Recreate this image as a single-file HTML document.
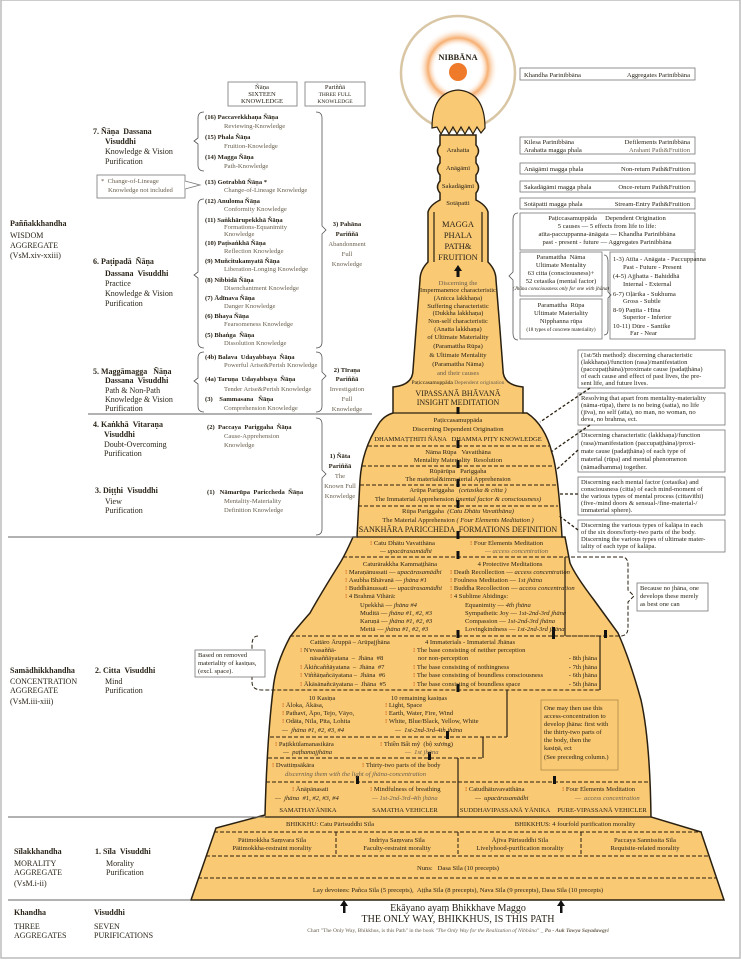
<!DOCTYPE html>
<html><head><meta charset="utf-8"><style>
html,body{margin:0;padding:0;background:#fff;}
svg{display:block;}
text{font-family:"Liberation Serif",serif;fill:#2a2418;}
.s{font-size:6.6px}
.m{font-size:8px}
.l{font-size:10px}
.b{font-weight:bold}
.i{font-style:italic}
.g{fill:#6a604f}
.c{text-anchor:middle}
.r{text-anchor:end}
.o{fill:#d2691e;font-weight:bold}
.dl{stroke:#2a2010;stroke-width:1;stroke-dasharray:4 2;fill:none}
.sl{stroke:#2a2010;stroke-width:1.2;fill:none}
.bx{stroke:#777;stroke-width:0.8;fill:#fff}
.br{stroke:#555;stroke-width:0.8;fill:none}
</style></head><body>
<svg width="741" height="960" viewBox="0 0 741 960" xmlns="http://www.w3.org/2000/svg">
<defs>
<radialGradient id="glow" cx="50%" cy="50%" r="50%">
<stop offset="0" stop-color="#fff" stop-opacity="0"/>
<stop offset="0.55" stop-color="#fff" stop-opacity="0"/>
<stop offset="0.75" stop-color="#f5a560" stop-opacity="0.9"/>
<stop offset="1" stop-color="#fff" stop-opacity="0"/>
</radialGradient>
</defs>
<rect x="1" y="0" width="739" height="958" fill="none" stroke="#bbb" stroke-width="1.5"/>

<!-- Nibbana -->
<circle cx="458" cy="73" r="57" fill="#fff" stroke="#d9c6a4" stroke-width="2.5"/>
<circle cx="458" cy="68" r="40" fill="url(#glow)"/>
<circle cx="458" cy="72" r="9" fill="#ee7a2a"/>
<text x="458" y="60" class="m b c" style="font-size:8.5px">NIBBĀNA</text>

<!-- dome cap -->
<path d="M432,128 Q432,92 458,90 Q485,92 485,128 L481,133 L477,127 L473,134 L469,127 L465,134 L461,127 L457,134 L453,127 L449,134 L445,127 L441,134 L437,127 Z" fill="#f9c974" stroke="#2a2010" stroke-width="1.2"/>

<!-- main stupa -->
<path d="M440,135 L440,145 Q435,151 440,157 L440,163 Q435,169 440,175 L440,181 Q435,187 440,193 L440,200 Q430,205 428,212 L428,262 Q420,270 420,280 L416,330 L413,370 Q413,385 393,387 L393,413 Q383,416 378,425 Q362,450 360,480 L357,537 L353,537 Q345,555 340,563 Q320,595 310,613 Q295,630 290,637 Q275,665 273,690 Q267,740 265,815 L216,828 L191,900 L724,900 L701,832 L651,817 Q650,740 641,700 Q630,660 618,633 Q605,615 594,600 Q575,575 570,563 L565,537 L562,537 Q558,470 552,453 Q545,425 527,413 L523,413 L523,387 Q503,385 503,370 L500,330 L496,280 Q496,270 488,262 L488,212 Q486,205 476,200 L476,193 Q481,187 476,181 L476,175 Q481,169 476,163 L476,157 Q481,151 476,145 L476,135 Z" fill="#f9c974" stroke="#2a2010" stroke-width="1.5"/>
<path class="sl" d="M434,212 L434,262 M482,212 L482,262"/>

<!-- internal lines -->
<line x1="393" y1="413" x2="523" y2="413" class="sl"/>
<line x1="368" y1="446" x2="549" y2="446" class="dl"/>
<line x1="362" y1="466" x2="553" y2="466" class="dl"/>
<line x1="360" y1="485" x2="556" y2="485" class="dl"/>
<line x1="358" y1="506" x2="558" y2="506" class="dl"/>
<line x1="356" y1="537" x2="563" y2="537" class="sl"/>
<path class="dl" d="M343,557 L622,557 Q628,557 628,565 L628,590 L634,596 L628,602 L628,628 Q628,636 620,636 L565,636"/>
<line x1="565" y1="557" x2="565" y2="636" class="sl"/>
<path class="dl" d="M290,636 L600,636 M258,636 Q252,636 252,645 L252,656 L246,662 L252,668 L252,682 Q252,690 262,690 L600,690"/>
<line x1="600" y1="636" x2="600" y2="690" class="sl"/>
<path class="dl" d="M270,737 L507,737 M268,758 L483,758 M266,782 L649,782"/>
<path class="sl" d="M507,690 L507,737 M483,737 L483,758 M458,758 L458,817"/>
<line x1="265" y1="817" x2="651" y2="817" class="sl"/>
<path class="dl" d="M214,832 L702,832 M206,856 L709,856 M198,878 L716,878"/>
<path class="dl" d="M336,832 L336,856 M458,832 L458,856 M581,832 L581,856"/>

<!-- arrows -->
<g fill="#111">
<rect x="456.5" y="269" width="3" height="8"/><path d="M454,271 L458,265 L462,271 Z"/>
<rect x="456.5" y="407" width="3" height="7"/>
<rect x="456.5" y="440" width="3" height="8"/>
<rect x="456.5" y="460" width="3" height="8"/>
<rect x="456.5" y="479" width="3" height="8"/>
<rect x="456.5" y="500" width="3" height="8"/>
<rect x="456.5" y="531" width="3" height="8"/>
<rect x="456.5" y="551" width="3" height="8"/>
<rect x="456.5" y="630" width="3" height="8"/>
<rect x="456.5" y="684" width="3" height="8"/>
<rect x="446" y="731" width="3" height="8"/>
<rect x="428" y="752" width="3" height="8"/>
<rect x="356" y="776" width="3" height="8"/>
<rect x="553" y="776" width="3" height="8"/>
<rect x="552" y="627" width="3" height="12"/>
<rect x="604" y="630" width="3" height="8"/>
<rect x="343" y="903" width="2.5" height="10"/><path d="M340,906 L344,900 L348,906 Z"/>
<rect x="560" y="903" width="2.5" height="10"/><path d="M557,906 L561,900 L565,906 Z"/>
</g>

<!-- spire text -->
<g class="s c">
<text x="458" y="152">Arahatta</text>
<text x="458" y="170">Anāgāmī</text>
<text x="458" y="188">Sakadāgāmī</text>
<text x="458" y="205">Sotāpatti</text>
<text x="458" y="227" class="m" style="font-size:8.5px">MAGGA</text>
<text x="458" y="238" class="m" style="font-size:8.5px">PHALA</text>
<text x="458" y="249" class="m" style="font-size:8.5px">PATH&amp;</text>
<text x="458" y="260" class="m" style="font-size:8.5px">FRUITION</text>
<text x="458" y="285" class="g">Discerning the</text>
<text x="458" y="292">Impermanence characteristic</text>
<text x="458" y="300">(Anicca lakkhaṇa)</text>
<text x="458" y="308">Suffering characteristic</text>
<text x="458" y="315">(Dukkha lakkhaṇa)</text>
<text x="458" y="323">Non-self characteristic</text>
<text x="458" y="331">(Anatta lakkhaṇa)</text>
<text x="458" y="339">of Ultimate Materiality</text>
<text x="458" y="348">(Paramattha Rūpa)</text>
<text x="458" y="357">&amp; Ultimate Mentality</text>
<text x="458" y="366">(Paramattha Nāma)</text>
<text x="458" y="375" class="g">and their causes</text>
<text x="458" y="384" style="font-size:5.6px">Paṭiccasamuppāda <tspan class="g">Dependent origination</tspan></text>
<text x="458" y="396" class="m">VIPASSANĀ BHĀVANĀ</text>
<text x="458" y="405" class="m">INSIGHT MEDITATION</text>
<text x="458" y="422">Paṭiccasamuppāda</text>
<text x="458" y="431">Discerning Dependent Origination</text>
<text x="458" y="441">DHAMMAṬṬHITI ÑĀṆA &#160;&#160;DHAMMA PIṬY KNOWLEDGE</text>
<text x="458" y="454">Nāma Rūpa &#160;&#160;Vavatthāna</text>
<text x="458" y="462">Mentality Materiality &#160;Resolution</text>
<text x="458" y="473">Rūpārūpa &#160;&#160;Pariggaha</text>
<text x="458" y="481">The material&amp;immaterial Apprehension</text>
<text x="458" y="492">Arūpa Pariggaha &#160;&#160;<tspan class="i">(cetasika &amp; citta )</tspan></text>
<text x="458" y="501">The Immaterial Apprehension <tspan class="i">(mental factor &amp; consciousness)</tspan></text>
<text x="458" y="513">Rūpa Pariggaha &#160;<tspan class="i">(Catu Dhātu Vavatthāna)</tspan></text>
<text x="458" y="522">The Material Apprehension <tspan class="i">( Four Elements Meditation )</tspan></text>
<text x="458" y="532" class="m">SANKHĀRA PARICCHEDA &#160;FORMATIONS DEFINITION</text>
</g>

<!-- concentration section -->
<g class="s">
<text x="370" y="545"><tspan class="o">! </tspan>Catu Dhātu Vavatthāna</text>
<text x="380" y="553" class="i">— upacārasamādhi</text>
<text x="470" y="545"><tspan class="o">! </tspan>Four Elements Meditation</text>
<text x="485" y="553" class="i g">— access concentration</text>
<text x="400" y="566" class="c">Caturārakkha Kammaṭṭhāna</text>
<text x="510" y="566" class="c">4 Protective Meditations</text>
<text x="345" y="574"><tspan class="o">! </tspan>Maraṇānussati — <tspan class="i">upacārasamādhi</tspan></text>
<text x="345" y="582"><tspan class="o">! </tspan>Asubha Bhāvanā — <tspan class="i">jhāna #1</tspan></text>
<text x="345" y="590"><tspan class="o">! </tspan>Buddhānussati — <tspan class="i">upacārasamādhi</tspan></text>
<text x="345" y="598"><tspan class="o">! </tspan>4 Brahmā Vihārā:</text>
<text x="360" y="607">Upekkhā — <tspan class="i">jhāna #4</tspan></text>
<text x="360" y="615">Muditā — <tspan class="i">jhāna #1, #2, #3</tspan></text>
<text x="360" y="623">Karuṇā — <tspan class="i">jhāna #1, #2, #3</tspan></text>
<text x="360" y="631">Mettā — <tspan class="i">jhāna #1, #2, #3</tspan></text>
<g class="g">
<text x="450" y="574"><tspan class="o">! </tspan>Death Recollection — <tspan class="i">access concentration</tspan></text>
<text x="450" y="582"><tspan class="o">! </tspan>Foulness Meditation — <tspan class="i">1st jhāna</tspan></text>
<text x="450" y="590"><tspan class="o">! </tspan>Buddha Recollection — <tspan class="i">access concentration</tspan></text>
<text x="450" y="598"><tspan class="o">! </tspan>4 Sublime Abidings:</text>
<text x="465" y="607">Equanimity — <tspan class="i">4th jhāna</tspan></text>
<text x="465" y="615">Sympathetic Joy — <tspan class="i">1st-2nd-3rd jhāna</tspan></text>
<text x="465" y="623">Compassion — <tspan class="i">1st-2nd-3rd jhāna</tspan></text>
<text x="465" y="631">Lovingkindness — <tspan class="i">1st-2nd-3rd jhāna</tspan></text>
</g>
<text x="350" y="644" class="c">Cattāro Āruppā – Arūpajjhāna</text>
<text x="470" y="644" class="c">4 Immaterials - Immaterial Jhānas</text>
<text x="300" y="652"><tspan class="o">! </tspan>N'evasaññā-</text>
<text x="310" y="660">nāsaññāyatana &#160;– &#160;Jhāna &#160;#8</text>
<text x="300" y="669"><tspan class="o">! </tspan>Ākiñcaññāyatana &#160;– &#160;Jhāna &#160;#7</text>
<text x="300" y="677"><tspan class="o">! </tspan>Viññāṇañcāyatana – &#160;Jhāna &#160;#6</text>
<text x="300" y="686"><tspan class="o">! </tspan>Ākāsānañcāyatana – &#160;Jhāna &#160;#5</text>
<g class="g">
<text x="413" y="652"><tspan class="o">! </tspan>The base consisting of neither perception</text>
<text x="418" y="660">nor non-perception</text>
<text x="413" y="669"><tspan class="o">! </tspan>The base consisting of nothingness</text>
<text x="413" y="677"><tspan class="o">! </tspan>The base consisting of boundless consciousness</text>
<text x="413" y="686"><tspan class="o">! </tspan>The base consisting of boundless space</text>
<text x="597" y="660" class="r">- 8th jhāna</text>
<text x="597" y="669" class="r">- 7th jhāna</text>
<text x="597" y="677" class="r">- 6th jhāna</text>
<text x="597" y="686" class="r">- 5th jhāna</text>
</g>
<text x="322" y="700" class="c">10 Kasiṇa</text>
<text x="391" y="700">10 remaining kasiṇas</text>
<text x="282" y="707"><tspan class="o">! </tspan>Āloka, Ākāsa,</text>
<text x="282" y="715"><tspan class="o">! </tspan>Pathavī, Āpo, Tejo, Vāyo,</text>
<text x="282" y="723"><tspan class="o">! </tspan>Odāta, Nīla, Pīta, Lohita</text>
<text x="282" y="732" class="i">— &#160;jhāna #1, #2, #3, #4</text>
<g class="g">
<text x="385" y="707"><tspan class="o">! </tspan>Light, Space</text>
<text x="385" y="715"><tspan class="o">! </tspan>Earth, Water, Fire, Wind</text>
<text x="385" y="723"><tspan class="o">! </tspan>White, Blue/Black, Yellow, White</text>
<text x="395" y="732" class="i">— &#160;1st-2nd-3rd-4th jhāna</text>
</g>
<text x="275" y="746"><tspan class="o">! </tspan>Paṭikkūlamanasikāra</text>
<text x="283" y="754" class="i">— &#160;paṭhamajjhāna</text>
<text x="380" y="746"><tspan class="o">! </tspan>Thiền Bất mỹ &#160;(bộ xương)</text>
<text x="405" y="754" class="i g">— &#160;1st jhāna</text>
<text x="272" y="767"><tspan class="o">! </tspan>Dvattiṃsākāra</text>
<text x="362" y="767"><tspan class="o">! </tspan>Thirty-two parts of the body</text>
<text x="285" y="776" class="i g">discerning them with the light of jhāna-concentration</text>
<text x="292" y="791"><tspan class="o">! </tspan>Ānāpānasati</text>
<text x="275" y="800" class="i">— &#160;jhāna &#160;#1, #2, #3, #4</text>
<text x="370" y="791"><tspan class="o">! </tspan>Mindfulness of breathing</text>
<text x="372" y="800" class="i g">— 1st-2nd-3rd-4th jhāna</text>
<text x="465" y="791"><tspan class="o">! </tspan>Catudhātuvavatthāna</text>
<text x="475" y="800" class="i">— &#160;upacārasamādhi</text>
<text x="562" y="791"><tspan class="o">! </tspan>Four Elements Meditation</text>
<text x="575" y="800" class="i g">— &#160;access concentration</text>
<text x="308" y="812" class="c">SAMATHAYĀNIKA</text>
<text x="405" y="812" class="c">SAMATHA VEHICLER</text>
<text x="505" y="812" class="c">SUDDHAVIPASSANĀ YĀNIKA</text>
<text x="602" y="812" class="c">PURE-VIPASSANĀ VEHICLER</text>
</g>
<rect x="541" y="700" width="77" height="70" fill="none" stroke="#b08a4a" stroke-width="0.8"/>
<g class="s g">
<text x="544" y="710">One may then use this</text>
<text x="544" y="718">access-concentration to</text>
<text x="544" y="726">develop jhāna: first with</text>
<text x="544" y="734">the thirty-two parts of</text>
<text x="544" y="742">the body, then the</text>
<text x="544" y="750">kasiṇā, ect</text>
<text x="544" y="759">(See preceding column.)</text>
</g>

<!-- base text -->
<g class="s c">
<text x="330" y="826">BHIKKHU: Catu Pārisuddhi Sīla</text>
<text x="575" y="826">BHIKKHUS: 4 fourfold purification morality</text>
<text x="272" y="842">Pātimokkha Saṃvara Sīla</text>
<text x="272" y="850">Pātimokkha-restraint morality</text>
<text x="397" y="842">Indriya Saṃvara Sīla</text>
<text x="397" y="850">Faculty-restraint morality</text>
<text x="520" y="842">Ājīva Pārisuddhi Sīla</text>
<text x="520" y="850">Livelyhood-purification morality</text>
<text x="645" y="842">Paccaya Sannissita Sīla</text>
<text x="645" y="850">Requisite-related morality</text>
<text x="458" y="870">Nuns: &#160;&#160;Dasa Sīla (10 precepts)</text>
<text x="458" y="892">Lay devotees: Pañca Sīla (5 precepts), &#160;Aṭṭha Sīla (8 precepts), Nava Sīla (9 precepts), Dasa Sīla (10 precepts)</text>
<text x="458" y="911" class="l">Ekāyano ayaṃ Bhikkhave Maggo</text>
<text x="458" y="922" class="l">THE ONLY WAY, BHIKKHUS, IS THIS PATH</text>
<text x="458" y="932" style="font-size:5.5px" class="g">Chart "The Only Way, Bhikkhus, is this Path" in the book <tspan class="i">"The Only Way for the Realization of Nibbāna"</tspan> _ <tspan class="b i">Pa - Auk Tawya Sayadawgyi</tspan></text>
</g>

<!-- right boxes top -->
<g class="s">
<rect x="520" y="68" width="175" height="12" class="bx"/>
<text x="524" y="77">Khandha Parinibbāna</text><text x="690" y="77" class="r">Aggregates Parinibbāna</text>
<rect x="520" y="137" width="175" height="17" class="bx"/>
<text x="524" y="144">Kilesa Parinibbāna</text><text x="690" y="144" class="r">Defilements Parinibbāna</text>
<text x="524" y="152">Arahatta magga phala</text><text x="690" y="152" class="r g">Arahant Path&amp;Fruition</text>
<rect x="520" y="163" width="175" height="11" class="bx"/>
<text x="524" y="171">Anāgāmi magga phala</text><text x="690" y="171" class="r">Non-return Path&amp;Fruition</text>
<rect x="520" y="181" width="175" height="11" class="bx"/>
<text x="524" y="189">Sakadāgāmi magga phala</text><text x="690" y="189" class="r">Once-return Path&amp;Fruition</text>
<rect x="520" y="198" width="175" height="11" class="bx"/>
<text x="524" y="206">Sotāpatti magga phala</text><text x="690" y="206" class="r">Stream-Entry Path&amp;Fruition</text>
<rect x="520" y="213" width="175" height="37" class="bx"/>
<text x="607" y="220" class="c">Paṭiccasamuppāda &#160;&#160;&#160;&#160;Dependent Origination</text>
<text x="607" y="228" class="c">5 causes — 5 effects from life to life:</text>
<text x="607" y="236" class="c">atīta-paccuppanna-ānāgata — Khandha Parinibbāna</text>
<text x="607" y="244" class="c">past - present - future — Aggregates Parinibbāna</text>
<rect x="520" y="252" width="82" height="44" class="bx"/>
<text x="561" y="259" class="c">Paramattha &#160;Nāma</text>
<text x="561" y="267" class="c">Ultimate Mentality</text>
<text x="561" y="275" class="c">63 citta (consciousness)+</text>
<text x="561" y="283" class="c">52 cetasika (mental factor)</text>
<text x="561" y="290" class="c i" style="font-size:5.2px">(Jhāna consciousness only for one with jhāna)</text>
<rect x="520" y="299" width="82" height="40" class="bx"/>
<text x="561" y="307" class="c">Paramattha &#160;Rūpa</text>
<text x="561" y="315" class="c">Ultimate Materiality</text>
<text x="561" y="323" class="c">Nipphanna rūpa</text>
<text x="561" y="331" class="c" style="font-size:5.2px">(18 types of concrete materiality)</text>
<rect x="610" y="252" width="85" height="87" class="bx"/>
<text x="613" y="261">1-3) Atīta - Anāgata - Paccuppanna</text>
<text x="623" y="269">Past - Future - Present</text>
<text x="613" y="278">(4-5) Ajjhatta - Bahiddhā</text>
<text x="623" y="286">Internal - External</text>
<text x="613" y="296">6-7) Oḷārika - Sukhuma</text>
<text x="623" y="303">Gross - Subtle</text>
<text x="613" y="312">8-9) Paṇīta - Hīna</text>
<text x="623" y="319">Superior - Inferior</text>
<text x="613" y="328">10-11) Dūre - Santike</text>
<text x="630" y="335">Far - Near</text>
</g>
<path class="br" d="M518,213 Q513,213 513,220 L513,272 L509,276 L513,280 L513,333 Q513,340 518,340"/>
<path class="br" d="M604,255 Q608,255 608,262 L608,292 L611,295 L608,298 L608,330 Q608,335 604,335"/>

<!-- right boxes insight -->
<g class="s">
<rect x="578" y="350" width="147" height="38" class="bx"/>
<text x="581" y="357">(1st/5th method): discerning characteristic</text>
<text x="581" y="364">(lakkhaṇa)/function (rasa)/manifestation</text>
<text x="581" y="371">(paccupaṭṭhāna)/proximate cause (padaṭṭhāna)</text>
<text x="581" y="378">of each cause and effect of past lives, the pre-</text>
<text x="581" y="385">sent life, and future lives.</text>
<rect x="578" y="393" width="147" height="32" class="bx"/>
<text x="581" y="400">Resolving that apart from mentality-materiality</text>
<text x="581" y="407">(nāma-rūpa), there is no being (satta), no life</text>
<text x="581" y="414">(jīva), no self (atta), no man, no woman, no</text>
<text x="581" y="421">deva, no brahma, ect.</text>
<rect x="578" y="430" width="147" height="42" class="bx"/>
<text x="581" y="437">Discerning characteristic (lakkhaṇa)/function</text>
<text x="581" y="445">(rasa)/manifestation (paccupaṭṭhāna)/proxi-</text>
<text x="581" y="453">mate cause (padaṭṭhāna) of each type of</text>
<text x="581" y="461">material (rūpa) and mental phenomenon</text>
<text x="581" y="469">(nāmadhamma) together.</text>
<rect x="578" y="477" width="147" height="38" class="bx"/>
<text x="581" y="484">Discerning each mental factor (cetasika) and</text>
<text x="581" y="491">consciousness (citta) of each mind-moment of</text>
<text x="581" y="498">the various types of mental process (cittavīthi)</text>
<text x="581" y="505">(five-/mind doors &amp; sensual-/fine-material-/</text>
<text x="581" y="512">immaterial sphere).</text>
<rect x="578" y="520" width="147" height="32" class="bx"/>
<text x="581" y="527">Discerning the various types of kalāpa in each</text>
<text x="581" y="534">of the six doors/forty-two parts of the body.</text>
<text x="581" y="541">Discerning the various types of ultimate mater-</text>
<text x="581" y="548">iality of each type of kalāpa.</text>
<rect x="637" y="583" width="71" height="28" class="bx"/>
<text x="640" y="590">Because no jhāna, one</text>
<text x="640" y="598">develops these merely</text>
<text x="640" y="606">as best one can</text>
<rect x="195" y="650" width="70" height="27" class="bx"/>
<text x="198" y="657">Based on removed</text>
<text x="198" y="665">materiality of kasiṇas,</text>
<text x="198" y="673">(excl. space).</text>
</g>
<g stroke="#2a2010" stroke-width="1.3" stroke-dasharray="3 2" fill="none">
<path d="M590,388 L540,422"/><path d="M590,425 L551,452"/><path d="M578,450 L556,470"/><path d="M578,494 L560,494"/><path d="M578,530 L558,515"/>
</g>

<!-- left side -->
<g class="s">
<rect x="228" y="82" width="69" height="24" class="bx"/>
<text x="262" y="89" class="c">Ñāṇa</text><text x="262" y="96" class="c">SIXTEEN</text><text x="262" y="103" class="c">KNOWLEDGE</text>
<rect x="305" y="82" width="60" height="24" class="bx"/>
<text x="335" y="89" class="c">Pariññā</text><text x="335" y="96" class="c" style="font-size:5.5px">THREE FULL</text><text x="335" y="103" class="c" style="font-size:5.5px">KNOWLEDGE</text>
<rect x="97" y="175" width="88" height="23" class="bx"/>
<path d="M185,181 L200,185 L185,189" fill="#fff" stroke="#777" stroke-width="0.8"/>
<text x="101" y="183" class="g">* &#160;Change-of-Lineage</text>
<text x="108" y="192" class="g">Knowledge not included</text>

<text x="205" y="119" class="b">(16) Paccavekkhaṇa Ñāṇa</text><text x="224" y="128" class="g">Reviewing-Knowledge</text>
<text x="205" y="139" class="b">(15) Phala Ñāṇa</text><text x="224" y="148" class="g">Fruition-Knowledge</text>
<text x="205" y="159" class="b">(14) Magga Ñāṇa</text><text x="224" y="168" class="g">Path-Knowledge</text>
<text x="205" y="184" class="b">(13) Gotrabhū Ñāṇa *</text><text x="224" y="192" class="g">Change-of-Lineage Knowledge</text>
<text x="205" y="203" class="b">(12) Anuloma Ñāṇa</text><text x="224" y="211" class="g">Conformity Knowledge</text>
<text x="205" y="222" class="b">(11) Saṅkhārupekkhā Ñāṇa</text><text x="224" y="229" class="g">Formations-Equanimity</text><text x="224" y="236" class="g">Knowledge</text>
<text x="205" y="245" class="b">(10) Paṭisaṅkhā Ñāṇa</text><text x="224" y="253" class="g">Reflection Knowledge</text>
<text x="205" y="263" class="b">(9) Muñcitukamyatā Ñāṇa</text><text x="224" y="271" class="g">Liberation-Longing Knowledge</text>
<text x="205" y="282" class="b">(8) Nibbidā Ñāṇa</text><text x="224" y="290" class="g">Disenchantment Knowledge</text>
<text x="205" y="300" class="b">(7) Ādīnava Ñāṇa</text><text x="224" y="308" class="g">Danger Knowledge</text>
<text x="205" y="318" class="b">(6) Bhaya Ñāṇa</text><text x="224" y="326" class="g">Fearsomeness Knowledge</text>
<text x="205" y="337" class="b">(5) Bhaṅga &#160;Ñāṇa</text><text x="224" y="345" class="g">Dissolution Knowledge</text>
<text x="205" y="359" class="b">(4b) Balava &#160;Udayabbaya &#160;Ñāṇa</text><text x="224" y="367" class="g">Powerful Arise&amp;Perish Knowledge</text>
<text x="205" y="381" class="b">(4a) Taruṇa &#160;Udayabbaya &#160;Ñāṇa</text><text x="224" y="391" class="g">Tender Arise&amp;Perish Knowledge</text>
<text x="205" y="401" class="b">(3) &#160;&#160;&#160;Sammasana &#160;&#160;Ñāṇa</text><text x="224" y="410" class="g">Comprehension Knowledge</text>
<text x="207" y="429" class="b">(2) &#160;Paccaya &#160;Pariggaha &#160;Ñāṇa</text><text x="224" y="438" class="g">Cause-Apprehension</text><text x="224" y="447" class="g">Knowledge</text>
<text x="207" y="494" class="b">(1) &#160;&#160;Nāmarūpa &#160;Pariccheda &#160;Ñāṇa</text><text x="224" y="503" class="g">Mentality-Materiality</text><text x="224" y="512" class="g">Definition Knowledge</text>
</g>
<g class="s c">
<text x="347" y="226" class="b">3) Pahāna</text><text x="347" y="236" class="b">Pariññā</text><text x="347" y="246" class="g">Abandonment</text><text x="347" y="256" class="g">Full</text><text x="347" y="266" class="g">Knowledge</text>
<text x="347" y="372" class="b">2) Tīraṇa</text><text x="347" y="381" class="b">Pariññā</text><text x="347" y="391" class="g">Investigation</text><text x="347" y="401" class="g">Full</text><text x="347" y="411" class="g">Knowledge</text>
<text x="340" y="458" class="b">1) Ñāta</text><text x="340" y="468" class="b">Pariññā</text><text x="340" y="478" class="g">The</text><text x="340" y="488" class="g">Known Full</text><text x="340" y="498" class="g">Knowledge</text>
</g>
<g class="br">
<path d="M204,112 Q198,112 198,118 L198,138 L194,141 L198,144 L198,165 Q198,171 204,171"/>
<path d="M204,199 Q198,199 198,205 L198,272 L194,275 L198,278 L198,342 Q198,348 204,348"/>
<path d="M204,352 Q198,352 198,358 L198,378 L194,381 L198,384 L198,406 Q198,412 204,412"/>
<path d="M316,112 Q322,112 322,118 L322,226 L326,230 L322,234 L322,342 Q322,348 316,348"/>
<path d="M316,352 Q322,352 322,358 L322,372 L326,376 L322,380 L322,406 Q322,412 316,412"/>
<path d="M316,418 Q322,418 322,424 L322,470 L326,474 L322,478 L322,529 Q322,535 316,535"/>
</g>
<g stroke="#666" stroke-width="0.9">
<line x1="88" y1="414" x2="372" y2="414"/>
<line x1="8" y1="537" x2="357" y2="537"/>
<line x1="8" y1="817" x2="265" y2="817"/>
<line x1="8" y1="900" x2="191" y2="900"/>
</g>
<g class="m">
<text x="93" y="134" class="b">7. Ñāṇa &#160;Dassana</text>
<text x="105" y="144" class="b">Visuddhi</text>
<text x="105" y="154">Knowledge &amp; Vision</text>
<text x="105" y="164">Purification</text>
<text x="10" y="226" class="b">Paññakkhandha</text>
<text x="10" y="238">WISDOM</text>
<text x="10" y="248">AGGREGATE</text>
<text x="10" y="258">(VsM.xiv-xxiii)</text>
<text x="93" y="264" class="b">6. Paṭipadā &#160;Ñāṇa</text>
<text x="105" y="276" class="b">Dassana &#160;Visuddhi</text>
<text x="105" y="286">Practice</text>
<text x="105" y="296">Knowledge &amp; Vision</text>
<text x="105" y="306">Purification</text>
<text x="93" y="374" class="b">5. Maggāmagga &#160;&#160;Ñāṇa</text>
<text x="105" y="383" class="b">Dassana &#160;Visuddhi</text>
<text x="105" y="393">Path &amp; Non-Path</text>
<text x="105" y="402">Knowledge &amp; Vision</text>
<text x="105" y="411">Purification</text>
<text x="93" y="427" class="b">4. Kaṅkhā &#160;Vitaraṇa</text>
<text x="104" y="437" class="b">Visuddhi</text>
<text x="104" y="447">Doubt-Overcoming</text>
<text x="104" y="456">Purification</text>
<text x="95" y="493" class="b">3. Diṭṭhi &#160;Visuddhi</text>
<text x="105" y="504">View</text>
<text x="105" y="513">Purification</text>
<text x="10" y="673" class="b">Samādhikkhandha</text>
<text x="10" y="684">CONCENTRATION</text>
<text x="10" y="693">AGGREGATE</text>
<text x="10" y="704">(VsM.iii-xiii)</text>
<text x="95" y="673" class="b">2. Citta &#160;Visuddhi</text>
<text x="105" y="684">Mind</text>
<text x="105" y="693">Purification</text>
<text x="14" y="854" class="b">Sīlakkhandha</text>
<text x="14" y="866">MORALITY</text>
<text x="14" y="875">AGGREGATE</text>
<text x="14" y="886">(VsM.i-ii)</text>
<text x="95" y="854" class="b">1. Sīla &#160;Visuddhi</text>
<text x="106" y="866">Morality</text>
<text x="106" y="875">Purification</text>
<text x="14" y="915" class="b">Khandha</text>
<text x="14" y="929">THREE</text>
<text x="14" y="938">AGGREGATES</text>
<text x="94" y="915" class="b">Visuddhi</text>
<text x="94" y="929">SEVEN</text>
<text x="94" y="938">PURIFICATIONS</text>
</g>
</svg>
</body></html>
